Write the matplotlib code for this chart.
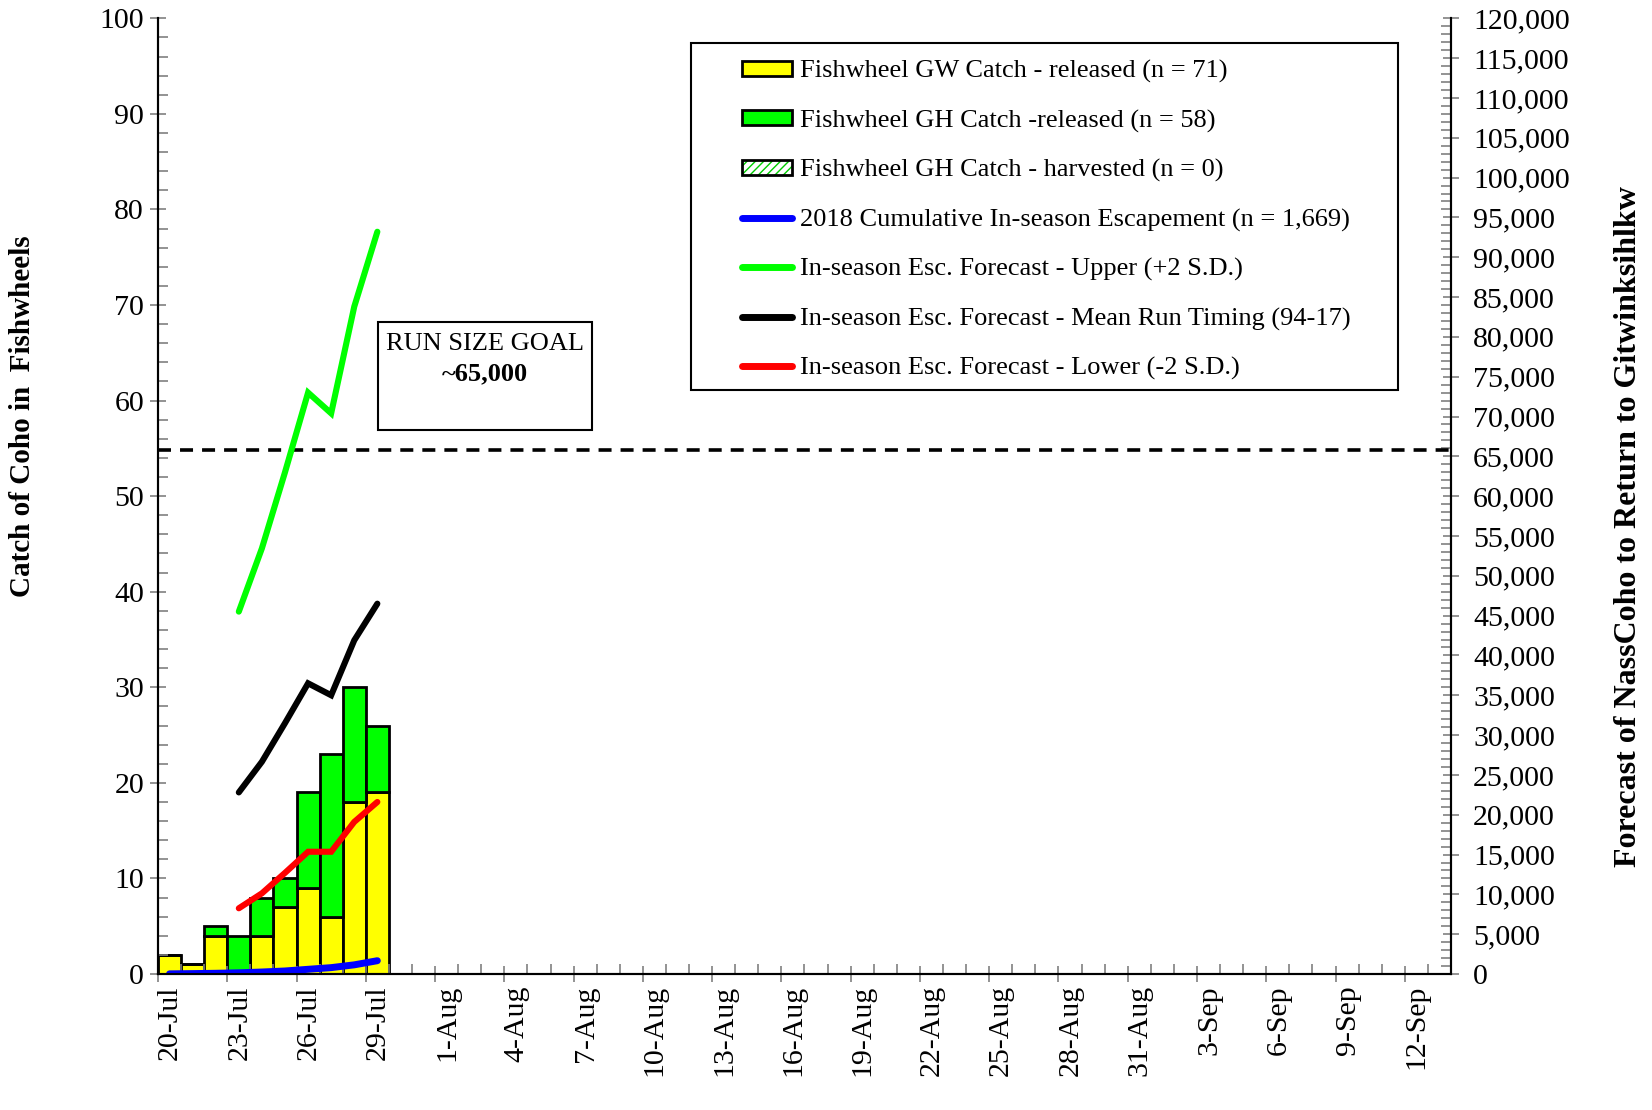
import matplotlib
matplotlib.use("Agg")
import matplotlib.pyplot as plt
from matplotlib.patches import Patch, Rectangle
from matplotlib.lines import Line2D
from matplotlib.ticker import MultipleLocator, FuncFormatter
from matplotlib.transforms import ScaledTranslation

plt.rcParams["font.family"] = ["Liberation Serif", "DejaVu Serif"]

# daily fishwheel catch, 20-Jul .. 29-Jul
gw_released = [2, 1, 4, 0, 4, 7, 9, 6, 18, 19]
gh_released = [0, 0, 1, 4, 4, 3, 10, 17, 12, 7]
gh_harvested = [0, 0, 0, 0, 0, 0, 0, 0, 0, 0]

# right axis series (fish), 20-Jul .. 29-Jul
escapement = [20, 50, 90, 150, 250, 380, 590, 800, 1150, 1669]
# forecasts start 23-Jul
fc_upper = [45500, 53450, 63000, 73000, 70400, 83800, 93200]
fc_mean = [22800, 26650, 31500, 36500, 35000, 41900, 46500]
fc_lower = [8250, 10130, 12700, 15350, 15350, 19100, 21600]
run_goal = 65800

tick_labels = ["20-Jul", "23-Jul", "26-Jul", "29-Jul", "1-Aug", "4-Aug", "7-Aug",
               "10-Aug", "13-Aug", "16-Aug", "19-Aug", "22-Aug", "25-Aug",
               "28-Aug", "31-Aug", "3-Sep", "6-Sep", "9-Sep", "12-Sep"]
n_days = 56

W, H = 1652, 1110
fig = plt.figure(figsize=(W / 100, H / 100), dpi=100)
ax = fig.add_axes([158 / W, 1 - 974 / H, (1451 - 158) / W, (974 - 18.3) / H])
ax2 = ax.twinx()

x_bar = [i + 0.5 for i in range(len(gw_released))]
x_fc = [i + 3.5 for i in range(len(fc_upper))]
gh_bottom = [a + b for a, b in zip(gw_released, gh_released)]

ax.bar(x_bar, gw_released, width=1, color="#FFFF00", edgecolor="black", lw=2)
ax.bar(x_bar, gh_released, width=1, bottom=gw_released, color="#00FF00",
       edgecolor="black", lw=2)
ax.bar(x_bar, gh_harvested, width=1, bottom=gh_bottom, color="white",
       edgecolor="#00CC00", hatch="////", lw=0)

ax2.axhline(run_goal, color="black", lw=2.6, ls=(0, (3.6, 2.5)))
ax2.plot(x_bar, escapement, color="#0000FF", lw=5, solid_capstyle="round")
ax2.plot(x_fc, fc_upper, color="#00FF00", lw=4.4, solid_capstyle="round",
         solid_joinstyle="miter")
ax2.plot(x_fc, fc_mean, color="black", lw=4.4, solid_capstyle="round",
         solid_joinstyle="miter")
ax2.plot(x_fc, fc_lower, color="#FF0000", lw=4.4, solid_capstyle="round",
         solid_joinstyle="miter")

ax.set_xlim(0, n_days)
ax.set_ylim(0, 100)
ax2.set_ylim(0, 120000)

ax.set_xticks(range(0, 3 * len(tick_labels), 3))
ax.set_xticklabels(tick_labels, rotation=90, fontsize=21.5)
ax.xaxis.set_minor_locator(MultipleLocator(1))
ax.yaxis.set_major_locator(MultipleLocator(10))
ax.yaxis.set_minor_locator(MultipleLocator(2))
ax2.yaxis.set_major_locator(MultipleLocator(5000))
ax2.yaxis.set_minor_locator(MultipleLocator(1000))
ax2.yaxis.set_major_formatter(FuncFormatter(lambda v, p: f"{v:,.0f}"))

for a in (ax, ax2):
    a.spines["top"].set_visible(False)
    a.tick_params(which="major", direction="inout", length=12, width=1.2,
                  color="#808080", labelsize=21.5, pad=4)
    a.tick_params(which="minor", direction="in", length=7, width=1.2,
                  color="#808080")
    for s in a.spines.values():
        s.set_linewidth(1.5)
ax.tick_params(axis="x", pad=2)
ax2.tick_params(axis="y", which="major", pad=10)
# date labels sit a little right of their ticks
shift = ScaledTranslation(12 / 100, 0, fig.dpi_scale_trans)
for lbl in ax.get_xticklabels():
    lbl.set_transform(lbl.get_transform() + shift)

fig.text(23 / W, 1 - 416 / H, "Catch of Coho in  Fishwheels", rotation=90,
         ha="center", va="center", fontsize=21, fontweight="bold")
fig.text(1628 / W, 1 - 527 / H, "Forecast of NassCoho to Return to Gitwinksihlkw",
         rotation=90, ha="center", va="center", fontsize=23, fontweight="bold")

# run size goal box
fig.patches.append(Rectangle((378 / W, 1 - 430 / H), (592 - 378) / W, (430 - 322) / H,
                             transform=fig.transFigure, fill=False,
                             edgecolor="black", lw=1.5))
fig.text(485 / W, 1 - 344 / H, "RUN SIZE GOAL", ha="center", va="center", fontsize=19)
fig.text(485 / W, 1 - 374 / H, "~65,000", ha="center", va="center", fontsize=19,
         fontweight="bold")

# legend frame + entries
fig.patches.append(Rectangle((691 / W, 1 - 390 / H), (1398 - 691) / W, (390 - 43) / H,
                             transform=fig.transFigure, fill=False,
                             edgecolor="black", lw=1.5))
handles = [
    Patch(facecolor="#FFFF00", edgecolor="black", lw=2),
    Patch(facecolor="#00FF00", edgecolor="black", lw=2),
    (Patch(facecolor="white", edgecolor="#00CC00", hatch="////", lw=0),
     Patch(facecolor="none", edgecolor="black", lw=2)),
    Line2D([], [], color="#0000FF", lw=5, solid_capstyle="round"),
    Line2D([], [], color="#00FF00", lw=5, solid_capstyle="round"),
    Line2D([], [], color="black", lw=5, solid_capstyle="round"),
    Line2D([], [], color="#FF0000", lw=5, solid_capstyle="round"),
]
labels = [
    "Fishwheel GW Catch - released (n = 71)",
    "Fishwheel GH Catch -released (n = 58)",
    "Fishwheel GH Catch - harvested (n = 0)",
    "2018 Cumulative In-season Escapement (n = 1,669)",
    "In-season Esc. Forecast - Upper (+2 S.D.)",
    "In-season Esc. Forecast - Mean Run Timing (94-17)",
    "In-season Esc. Forecast - Lower (-2 S.D.)",
]
fig.legend(handles, labels, loc="upper left", bbox_to_anchor=(742 / W, 1 - 60 / H),
           frameon=False, fontsize=19, borderpad=0, borderaxespad=0,
           handlelength=1.9, handleheight=0.52, handletextpad=0.3,
           labelspacing=1.0)

fig.savefig("out.png", dpi=100)
